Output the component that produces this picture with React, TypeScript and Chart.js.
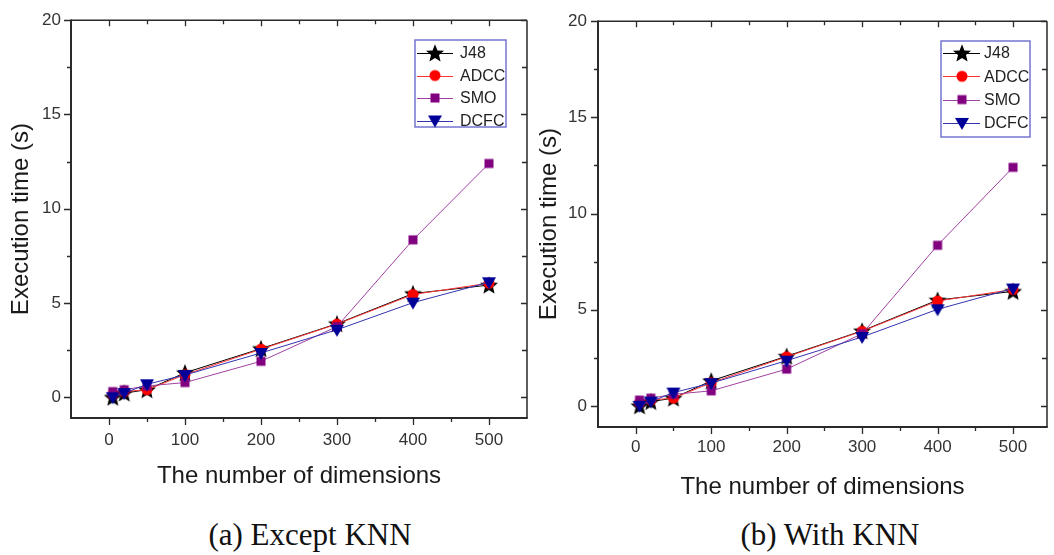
import React, { useEffect, useRef } from "react";
import { Chart, registerables } from "chart.js";

Chart.register(...registerables);

// Number of dimensions on the x axis
const dimensions = [5, 20, 50, 100, 200, 300, 400, 500];

// Execution time (s) for each classifier
const j48 = [0.0, 0.22, 0.4, 1.3, 2.58, 3.9, 5.5, 5.95];
const adcc = [0.15, 0.3, 0.4, 1.2, 2.55, 3.88, 5.45, 6.05];
const smo = [0.3, 0.4, 0.6, 0.78, 1.91, 3.75, 8.35, 12.4];
const dcfc = [0.0, 0.22, 0.69, 1.18, 2.35, 3.58, 5.02, 6.1];

const seriesNames = ["J48", "ADCC", "SMO", "DCFC"];

// Axis ticks
const xMajorTicks = [0, 100, 200, 300, 400, 500];
const xMinorTicks = [50, 150, 250, 350, 450];
const yMajorTicks = [0, 5, 10, 15, 20];
const yMinorTicks = [2.5, 7.5, 12.5, 17.5];

const xTitle = "The number of dimensions";
const yTitle = "Execution time (s)";
const captions = ["(a) Except KNN", "(b) With KNN"];

const SANS = '"Liberation Sans", Arial, Helvetica, sans-serif';
const SERIF = '"Liberation Serif", "Times New Roman", serif';

type MarkerKind = "star" | "circle" | "square" | "triangleDown";

function makeMarker(kind: MarkerKind, fill: string): HTMLCanvasElement {
  const size = 22;
  const c = document.createElement("canvas");
  c.width = size;
  c.height = size;
  const ctx = c.getContext("2d")!;
  const m = size / 2;
  ctx.fillStyle = fill;
  ctx.beginPath();
  if (kind === "star") {
    for (let i = 0; i < 10; i++) {
      const r = i % 2 === 0 ? 9.5 : 4.2;
      const a = -Math.PI / 2 + (i * Math.PI) / 5;
      const px = m + r * Math.cos(a);
      const py = m + 0.8 + r * Math.sin(a);
      if (i === 0) ctx.moveTo(px, py);
      else ctx.lineTo(px, py);
    }
    ctx.closePath();
  } else if (kind === "circle") {
    ctx.arc(m, m, 5.5, 0, Math.PI * 2);
  } else if (kind === "square") {
    ctx.rect(m - 4.5, m - 4.5, 9, 9);
  } else {
    ctx.moveTo(m - 7, m - 5);
    ctx.lineTo(m + 7, m - 5);
    ctx.lineTo(m, m + 7);
    ctx.closePath();
  }
  ctx.fill();
  return c;
}

interface LegendBox {
  left: number; // offset from chart area right edge
  top: number;
  w: number;
  h: number;
  rowStart: number;
  rowStep: number;
  markerX: number;
  textX: number;
}

interface PanelSpec {
  x: number;
  width: number;
  height: number;
  padRight: number;
  yAxisW: number;
  xAxisH: number;
  xMin: number;
  xMax: number;
  yMin: number;
  yMax: number;
  yTickPad: number;
  xTickPad: number;
  yTitlePad: number;
  xTitlePad: number;
  legend: LegendBox;
}

const panels: PanelSpec[] = [
  {
    x: 0,
    width: 535,
    height: 500,
    padRight: 8,
    yAxisW: 71,
    xAxisH: 82,
    xMin: -50,
    xMax: 550,
    yMin: -1.1,
    yMax: 20,
    yTickPad: 10,
    xTickPad: 12,
    yTitlePad: 7,
    xTitlePad: 9.6,
    legend: { left: -112, top: 40, w: 91, h: 87, rowStart: 53, rowStep: 22.5, markerX: 20, textX: 45 },
  },
  {
    x: 535,
    width: 519,
    height: 510,
    padRight: 4,
    yAxisW: 63,
    xAxisH: 83,
    xMin: -50,
    xMax: 545,
    yMin: -1.1,
    yMax: 20,
    yTickPad: 11,
    xTickPad: 10,
    yTitlePad: 0,
    xTitlePad: 8.6,
    legend: { left: -106, top: 41, w: 89, h: 96, rowStart: 53, rowStep: 23.3, markerX: 21, textX: 43 },
  },
];

function Panel({ spec }: { spec: PanelSpec }) {
  const ref = useRef<HTMLCanvasElement | null>(null);

  useEffect(() => {
    const canvas = ref.current;
    if (!canvas) return;

    const markers = [
      makeMarker("star", "#000000"),
      makeMarker("circle", "#ff0000"),
      makeMarker("square", "#800080"),
      makeMarker("triangleDown", "#000099"),
    ];
    const lineColors = ["#000000", "#ff3333", "#a040a0", "#3333b0"];
    const values = [j48, adcc, smo, dcfc];

    const frameAndLegend = {
      id: "frameAndLegend",
      afterDraw(chart: any) {
        const ctx: CanvasRenderingContext2D = chart.ctx;
        const { left, right, top, bottom } = chart.chartArea;
        const xs = chart.scales.x;
        const ys = chart.scales.y;
        ctx.save();
        ctx.strokeStyle = "#2a2a2a";

        // frame
        ctx.lineWidth = 1.5;
        ctx.beginPath();
        ctx.moveTo(left, top);
        ctx.lineTo(right, top);
        ctx.moveTo(right, top);
        ctx.lineTo(right, bottom);
        ctx.stroke();
        ctx.lineWidth = 2;
        ctx.beginPath();
        ctx.moveTo(left, top - 0.75);
        ctx.lineTo(left, bottom);
        ctx.lineTo(right + 0.75, bottom);
        ctx.stroke();

        // ticks
        ctx.lineWidth = 1.3;
        ctx.beginPath();
        const xTick = (v: number, outLen: number, inLen: number) => {
          const px = Math.round(xs.getPixelForValue(v)) + 0.5;
          ctx.moveTo(px, bottom);
          ctx.lineTo(px, bottom + outLen);
          ctx.moveTo(px, top);
          ctx.lineTo(px, top + inLen);
        };
        const yTick = (v: number, outLen: number, inLen: number) => {
          const py = Math.round(ys.getPixelForValue(v)) + 0.5;
          ctx.moveTo(left, py);
          ctx.lineTo(left - outLen, py);
          ctx.moveTo(right, py);
          ctx.lineTo(right - inLen, py);
        };
        xMajorTicks.forEach((v) => xTick(v, 7, 6));
        xMinorTicks.forEach((v) => xTick(v, 4, 4));
        yMajorTicks.forEach((v) => yTick(v, 7, 6));
        yMinorTicks.forEach((v) => yTick(v, 4, 5));
        ctx.stroke();

        // legend
        const lg = spec.legend;
        const bx = right + lg.left;
        ctx.strokeStyle = "#7474d0";
        ctx.lineWidth = 1.5;
        ctx.strokeRect(bx, lg.top, lg.w, lg.h);
        ctx.font = `16px ${SANS}`;
        ctx.textBaseline = "middle";
        ctx.textAlign = "left";
        seriesNames.forEach((name, i) => {
          const ry = lg.rowStart + i * lg.rowStep;
          ctx.strokeStyle = lineColors[i];
          ctx.lineWidth = 1;
          ctx.beginPath();
          ctx.moveTo(bx + 2, Math.round(ry) + 0.5);
          ctx.lineTo(bx + lg.markerX + 18, Math.round(ry) + 0.5);
          ctx.stroke();
          const mk = markers[i];
          ctx.drawImage(mk, bx + lg.markerX - mk.width / 2, ry - mk.height / 2);
          ctx.fillStyle = "#1e1e1e";
          ctx.fillText(name, bx + lg.textX, ry + 1);
        });
        ctx.restore();
      },
    };

    const chart = new Chart(canvas, {
      type: "line",
      data: {
        datasets: seriesNames.map((name, i) => ({
          label: name,
          data: dimensions.map((d, k) => ({ x: d, y: values[i][k] })),
          borderColor: lineColors[i],
          backgroundColor: lineColors[i],
          borderWidth: 1,
          pointStyle: markers[i] as any,
          pointRadius: 6,
          pointHoverRadius: 6,
          tension: 0,
          fill: false,
          clip: false as any,
          order: seriesNames.length - 1 - i,
        })),
      },
      options: {
        animation: false,
        responsive: false,
        devicePixelRatio: 1,
        events: [],
        layout: { padding: { left: 0, top: 16, right: spec.padRight, bottom: 0 } },
        plugins: {
          legend: { display: false },
          tooltip: { enabled: false },
        },
        scales: {
          x: {
            type: "linear",
            min: spec.xMin,
            max: spec.xMax,
            afterBuildTicks: (s: any) => {
              s.ticks = xMajorTicks.map((v) => ({ value: v }));
            },
            afterFit: (s: any) => {
              s.height = spec.xAxisH;
            },
            grid: { display: false, drawTicks: false },
            border: { display: false },
            ticks: {
              autoSkip: false,
              maxRotation: 0,
              padding: spec.xTickPad,
              color: "#333333",
              font: { family: SANS, size: 17 },
            },
            title: {
              display: true,
              text: xTitle,
              color: "#1a1a1a",
              font: { family: SANS, size: 24 },
              padding: { top: 0, bottom: spec.xTitlePad },
            },
          },
          y: {
            type: "linear",
            min: spec.yMin,
            max: spec.yMax,
            afterBuildTicks: (s: any) => {
              s.ticks = yMajorTicks.map((v) => ({ value: v }));
            },
            afterFit: (s: any) => {
              s.width = spec.yAxisW;
            },
            grid: { display: false, drawTicks: false },
            border: { display: false },
            ticks: {
              autoSkip: false,
              padding: spec.yTickPad,
              color: "#333333",
              font: { family: SANS, size: 17 },
            },
            title: {
              display: true,
              text: yTitle,
              color: "#1a1a1a",
              font: { family: SANS, size: 24 },
              padding: { top: spec.yTitlePad, bottom: 0 },
            },
          },
        },
      },
      plugins: [frameAndLegend],
    } as any);

    return () => chart.destroy();
  }, [spec]);

  return (
    <canvas
      ref={ref}
      width={spec.width}
      height={spec.height}
      style={{
        position: "absolute",
        left: spec.x,
        top: 0,
        width: spec.width,
        height: spec.height,
      }}
    />
  );
}

export default function App() {
  return (
    <div
      style={{
        position: "absolute",
        left: 0,
        top: 0,
        width: 1054,
        height: 555,
        background: "#ffffff",
        overflow: "hidden",
      }}
    >
      {panels.map((p, i) => (
        <Panel key={i} spec={p} />
      ))}
      <div
        style={{
          position: "absolute",
          left: 110,
          top: 517,
          width: 400,
          textAlign: "center",
          fontFamily: SERIF,
          fontSize: 31,
          lineHeight: "36px",
          color: "#111",
        }}
      >
        {captions[0]}
      </div>
      <div
        style={{
          position: "absolute",
          left: 630,
          top: 517,
          width: 400,
          textAlign: "center",
          fontFamily: SERIF,
          fontSize: 31,
          lineHeight: "36px",
          color: "#111",
        }}
      >
        {captions[1]}
      </div>
    </div>
  );
}
